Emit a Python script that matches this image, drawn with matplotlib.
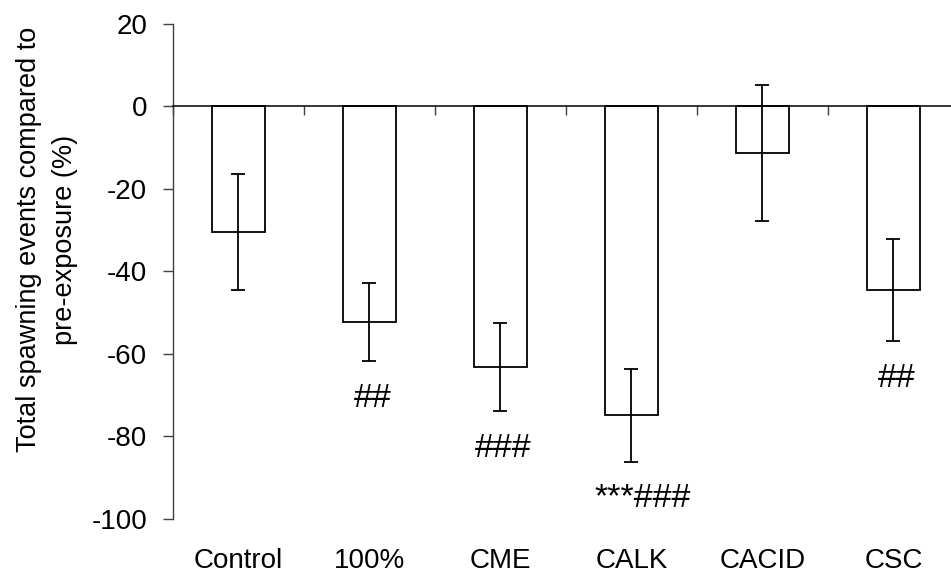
import matplotlib
matplotlib.use("Agg")
import matplotlib.pyplot as plt
import matplotlib.transforms as mtransforms
import numpy as np

plt.rcParams["font.family"] = ["Liberation Sans", "DejaVu Sans"]
plt.rcParams["axes.unicode_minus"] = False

# Total spawning events relative to pre-exposure (%), mean and SE per group
groups = ["Control", "100%", "CME", "CALK", "CACID", "CSC"]
change_pct = [-30.4, -52.2, -63.2, -74.9, -11.3, -44.5]
change_se = [14.1, 9.5, 10.7, 11.2, 16.5, 12.4]
signif = ["", "##", "###", "***###", "", "##"]

fig = plt.figure(figsize=(9.51, 5.78), dpi=100)
ax = fig.add_axes([0.1819, 0.1021, 0.8265, 0.8564])

x = np.arange(len(groups))
ax.bar(x, change_pct, width=0.40, facecolor="white", edgecolor="black",
       linewidth=1.3, zorder=2)
ax.errorbar(x, change_pct, yerr=change_se, fmt="none", ecolor="black",
            elinewidth=1.3, capsize=5.3, capthick=1.3, zorder=3)

# significance marks sit a fixed distance below the lower whisker
for xi, v, se, lab in zip(x, change_pct, change_se, signif):
    if not lab:
        continue
    shift = 8 if lab.startswith("*") else 2
    ax.annotate(lab, xy=(xi, v - se - 9), xytext=(shift, 0),
                textcoords="offset points", ha="center", va="center",
                fontsize=24.5)

ax.set_xlim(-0.5, len(groups) - 0.5)
ax.set_ylim(-100, 20)
ax.set_yticks(np.arange(-100, 21, 20))
ax.tick_params(axis="y", labelsize=20, length=7.2, width=1.0,
               color="#404040", pad=11.5)

# zero line doubles as the x axis, ticks at the category boundaries
ax.spines["bottom"].set_position(("data", 0))
ax.spines["bottom"].set_linewidth(1.1)
ax.spines["left"].set_color("#404040")
ax.spines["left"].set_linewidth(1.0)
ax.spines["top"].set_visible(False)
ax.spines["right"].set_visible(False)
ax.set_xticks(np.arange(len(groups) + 1) - 0.5)
ax.set_xticklabels([])
ax.tick_params(axis="x", direction="out", length=6.5, width=1.0, color="#404040")

# group names below the plotting area
trans = mtransforms.blended_transform_factory(ax.transData, ax.transAxes)
for xi, name in zip(x, groups):
    ax.text(xi, -0.085, name, transform=trans, ha="center", va="center",
            fontsize=20)

fig.text(0.049, 0.585, "Total spawning events compared to\npre-exposure (%)",
         rotation=90, ha="center", va="center", multialignment="center",
         fontsize=19.5, linespacing=1.5)

fig.savefig("out.png", dpi=100)
